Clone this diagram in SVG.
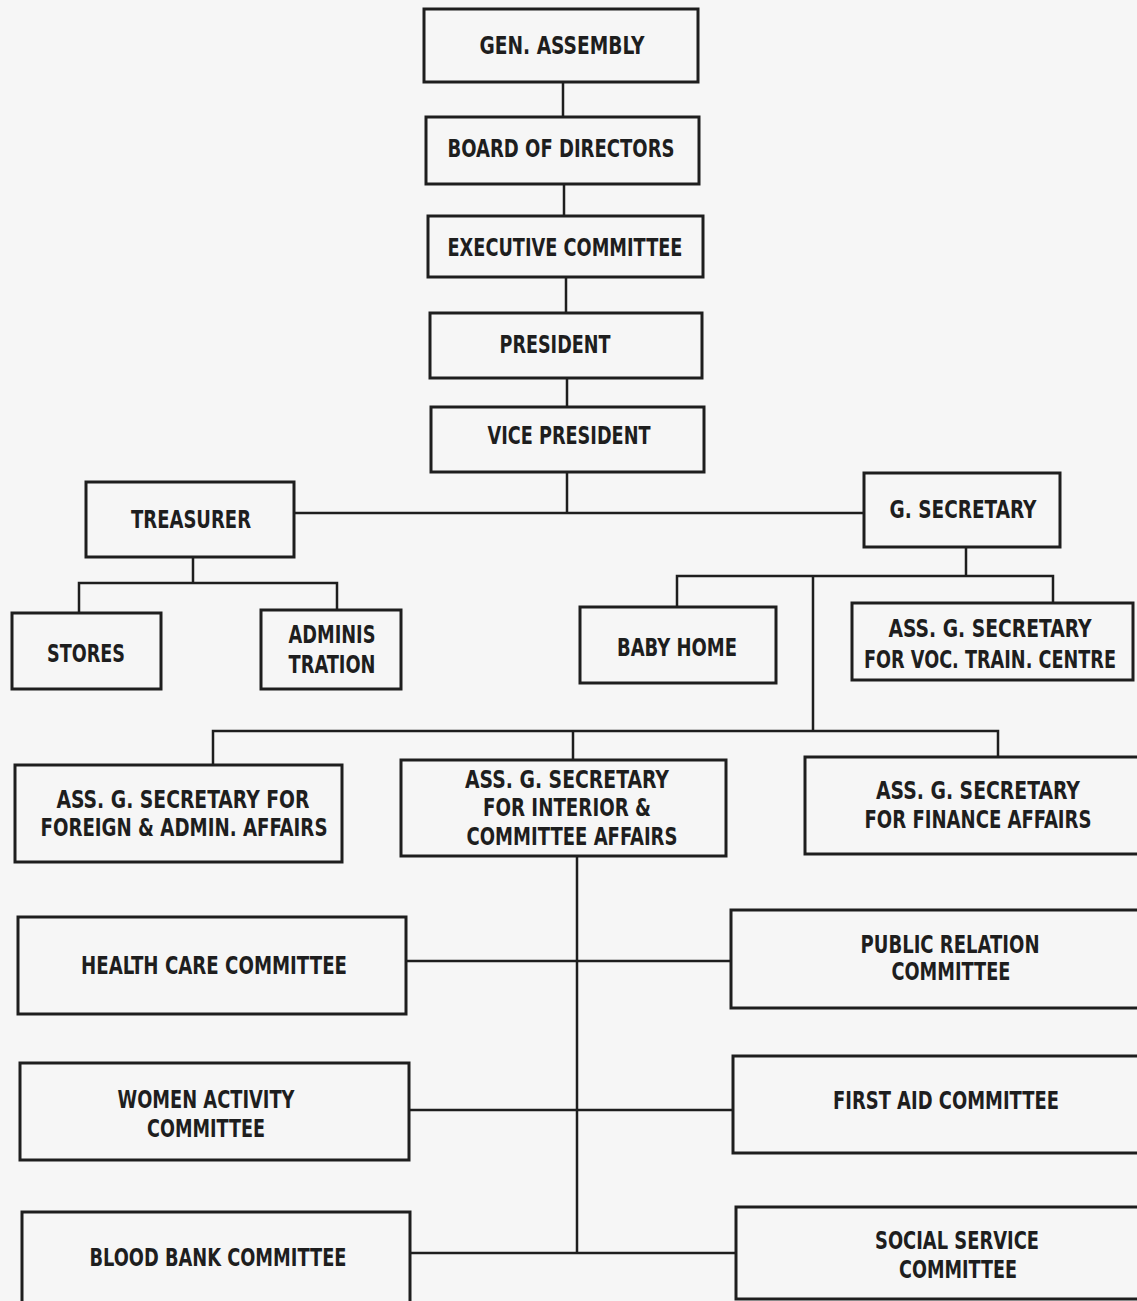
<svg xmlns="http://www.w3.org/2000/svg" width="1137" height="1301" viewBox="0 0 1137 1301">
<style>
.b{fill:none;stroke:#1e1e1e;stroke-width:3}
.c{fill:none;stroke:#1e1e1e;stroke-width:2.5}
text{font-family:"Liberation Sans Narrow","DejaVu Sans Condensed","Liberation Sans",sans-serif;font-weight:bold;font-size:24px;fill:#1e1e1e;text-anchor:middle}
</style>
<rect width="1137" height="1301" fill="#f6f6f6"/>
<g id="connectors">
<path class="c" d="M563 82V117M564 184V216M566 277V313M567 378V407M567 472V512"/>
<path class="c" d="M294 513H864"/>
<path class="c" d="M193 557V583M79 613V583H337V610"/>
<path class="c" d="M966 547V576M677 607V576H1053V603M813 576V731"/>
<path class="c" d="M213 765V731H998V757M573 731V760"/>
<path class="c" d="M577 856V1253"/>
<path class="c" d="M406 961H731M409 1110H733M410 1253H736"/>
</g>
<g id="gen-assembly"><rect class="b" x="424" y="9" width="274" height="73"/><text x="562" y="54" textLength="165" lengthAdjust="spacingAndGlyphs">GEN. ASSEMBLY</text></g>
<g id="board"><rect class="b" x="426" y="117" width="273" height="67"/><text x="561" y="157" textLength="227" lengthAdjust="spacingAndGlyphs">BOARD OF DIRECTORS</text></g>
<g id="executive"><rect class="b" x="428" y="216" width="275" height="61"/><text x="565" y="256" textLength="235" lengthAdjust="spacingAndGlyphs">EXECUTIVE COMMITTEE</text></g>
<g id="president"><rect class="b" x="430" y="313" width="272" height="65"/><text x="555" y="353" textLength="111" lengthAdjust="spacingAndGlyphs">PRESIDENT</text></g>
<g id="vice-president"><rect class="b" x="431" y="407" width="273" height="65"/><text x="569" y="444" textLength="163" lengthAdjust="spacingAndGlyphs">VICE PRESIDENT</text></g>
<g id="treasurer"><rect class="b" x="86" y="482" width="208" height="75"/><text x="191" y="528" textLength="120" lengthAdjust="spacingAndGlyphs">TREASURER</text></g>
<g id="g-secretary"><rect class="b" x="864" y="473" width="196" height="74"/><text x="963" y="518" textLength="147" lengthAdjust="spacingAndGlyphs">G. SECRETARY</text></g>
<g id="stores"><rect class="b" x="12" y="613" width="149" height="76"/><text x="86" y="662" textLength="78" lengthAdjust="spacingAndGlyphs">STORES</text></g>
<g id="administration"><rect class="b" x="261" y="610" width="140" height="79"/><text x="332" y="643" textLength="87" lengthAdjust="spacingAndGlyphs">ADMINIS</text><text x="332" y="673" textLength="87" lengthAdjust="spacingAndGlyphs">TRATION</text></g>
<g id="baby-home"><rect class="b" x="580" y="607" width="196" height="76"/><text x="677" y="656" textLength="120" lengthAdjust="spacingAndGlyphs">BABY HOME</text></g>
<g id="ass-voc"><rect class="b" x="852" y="603" width="281" height="77"/><text x="990" y="637" textLength="203" lengthAdjust="spacingAndGlyphs">ASS. G. SECRETARY</text><text x="990" y="668" font-size="22" textLength="252" lengthAdjust="spacingAndGlyphs">FOR VOC. TRAIN. CENTRE</text></g>
<g id="ass-foreign"><rect class="b" x="15" y="765" width="327" height="97"/><text x="183" y="808" textLength="253" lengthAdjust="spacingAndGlyphs">ASS. G. SECRETARY FOR</text><text x="184" y="836" textLength="287" lengthAdjust="spacingAndGlyphs">FOREIGN &amp; ADMIN. AFFAIRS</text></g>
<g id="ass-interior"><rect class="b" x="401" y="760" width="325" height="96"/><text x="567" y="788" textLength="204" lengthAdjust="spacingAndGlyphs">ASS. G. SECRETARY</text><text x="567" y="816" textLength="168" lengthAdjust="spacingAndGlyphs">FOR INTERIOR &amp;</text><text x="572" y="845" textLength="211" lengthAdjust="spacingAndGlyphs">COMMITTEE AFFAIRS</text></g>
<g id="ass-finance"><rect class="b" x="805" y="757" width="340" height="97"/><text x="978" y="799" textLength="204" lengthAdjust="spacingAndGlyphs">ASS. G. SECRETARY</text><text x="978" y="828" font-size="22" textLength="227" lengthAdjust="spacingAndGlyphs">FOR FINANCE AFFAIRS</text></g>
<g id="health-care"><rect class="b" x="18" y="917" width="388" height="97"/><text x="214" y="974" textLength="266" lengthAdjust="spacingAndGlyphs">HEALTH CARE COMMITTEE</text></g>
<g id="public-relation"><rect class="b" x="731" y="910" width="415" height="98"/><text x="950" y="953" textLength="179" lengthAdjust="spacingAndGlyphs">PUBLIC RELATION</text><text x="951" y="980" textLength="119" lengthAdjust="spacingAndGlyphs">COMMITTEE</text></g>
<g id="women-activity"><rect class="b" x="20" y="1063" width="389" height="97"/><text x="206" y="1108" textLength="177" lengthAdjust="spacingAndGlyphs">WOMEN ACTIVITY</text><text x="206" y="1137" textLength="118" lengthAdjust="spacingAndGlyphs">COMMITTEE</text></g>
<g id="first-aid"><rect class="b" x="733" y="1056" width="413" height="97"/><text x="946" y="1109" textLength="226" lengthAdjust="spacingAndGlyphs">FIRST AID COMMITTEE</text></g>
<g id="blood-bank"><rect class="b" x="22" y="1212" width="388" height="100"/><text x="218" y="1266" textLength="257" lengthAdjust="spacingAndGlyphs">BLOOD BANK COMMITTEE</text></g>
<g id="social-service"><rect class="b" x="736" y="1207" width="410" height="92"/><text x="957" y="1249" textLength="164" lengthAdjust="spacingAndGlyphs">SOCIAL SERVICE</text><text x="958" y="1278" textLength="118" lengthAdjust="spacingAndGlyphs">COMMITTEE</text></g>
</svg>
